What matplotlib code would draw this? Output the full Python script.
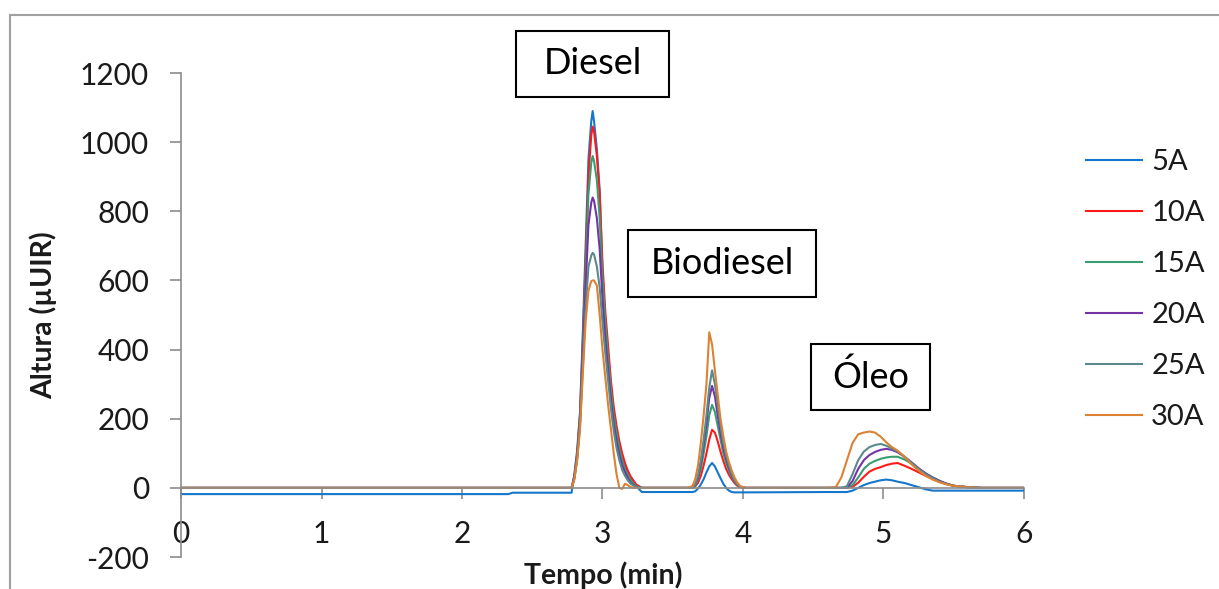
import matplotlib
matplotlib.use("Agg")
import matplotlib.pyplot as plt
from matplotlib.patches import Rectangle

plt.rcParams['font.family'] = ['Lato', 'DejaVu Sans']
plt.rcParams['axes.unicode_minus'] = False

# tempo de retenção (min): linha de base, pico do diesel, biodiesel, óleo
t_base = [0.0, 2.33, 2.36]
t_diesel = [2.78, 2.80, 2.82, 2.84, 2.86, 2.88, 2.90, 2.92, 2.93, 2.94, 2.96, 2.98, 3.00,
            3.02, 3.04, 3.06, 3.08, 3.10, 3.12, 3.14, 3.16, 3.18, 3.20, 3.24, 3.28]
t_bio = [3.60, 3.64, 3.66, 3.68, 3.70, 3.72, 3.74, 3.76, 3.78, 3.80, 3.82, 3.84, 3.86,
         3.88, 3.90, 3.92, 3.94, 3.96, 3.98, 4.02]
t_oleo = [4.60, 4.66, 4.70, 4.74, 4.78, 4.82, 4.86, 4.90, 4.94, 4.98, 5.02, 5.06, 5.10,
          5.15, 5.20, 5.25, 5.30, 5.35, 5.40, 5.45, 5.50, 5.60, 5.70]
t_fim = [6.0]
tempo = t_base + t_diesel + t_bio + t_oleo + t_fim

amostras = ['5A', '10A', '15A', '20A', '25A', '30A']
cores = ['#1577cc', '#ff1a1a', '#3a9d72', '#7434a6', '#5a8a8c', '#dc8232']

# altura (µUIR) de cada amostra
h_5A = ([-18, -18, -14] +
        [-14, 40, 110, 220, 450, 700, 950, 1060, 1090, 1060, 980, 860, 620,
         470, 380, 290, 215, 160, 120, 90, 65, 45, 30, 5, -12] +
        [-12, -12, -10, -2, 10, 25, 45, 62, 72, 62, 45, 28, 12, 0, -8, -12, -13, -13, -13, -13] +
        [-12, -12, -12, -12, -8, 0, 8, 14, 18, 22, 24, 22, 18, 14, 8, 2, -4, -8, -8, -8, -8, -8, -8] +
        [-8])
h_10A = ([0, 0, 0] +
         [0, 35, 100, 210, 420, 660, 900, 1020, 1045, 1030, 960, 850, 650,
          510, 410, 310, 235, 180, 135, 100, 72, 50, 33, 10, 0] +
         [0, 0, 4, 15, 35, 65, 100, 140, 168, 160, 135, 105, 78, 55, 38, 25, 14, 6, 2, 0] +
         [0, 0, 0, 0, 3, 15, 32, 47, 55, 60, 66, 70, 72, 64, 55, 45, 35, 26, 18, 11, 6, 2, 0] +
         [0])
h_15A = ([0, 0, 0] +
         [0, 30, 95, 200, 400, 620, 850, 940, 960, 945, 890, 780, 610,
          480, 375, 285, 210, 160, 115, 80, 55, 38, 22, 5, 0] +
         [0, 0, 6, 25, 55, 100, 150, 210, 240, 220, 180, 140, 100, 72, 50, 32, 18, 8, 2, 0] +
         [0, 0, 0, 0, 8, 30, 55, 70, 78, 84, 88, 90, 90, 82, 70, 55, 42, 30, 20, 12, 6, 2, 0] +
         [0])
h_20A = ([0, 0, 0] +
         [0, 30, 90, 190, 380, 580, 760, 825, 840, 830, 780, 690, 545,
          430, 340, 255, 185, 135, 95, 65, 45, 28, 15, 3, 0] +
         [0, 0, 8, 30, 70, 125, 185, 260, 295, 265, 210, 160, 115, 85, 58, 36, 20, 9, 3, 0] +
         [0, 0, 0, 0, 20, 55, 80, 95, 104, 110, 113, 110, 103, 90, 74, 57, 42, 30, 20, 12, 6, 2, 0] +
         [0])
h_25A = ([0, 0, 0] +
         [0, 28, 85, 180, 350, 520, 640, 672, 680, 675, 640, 580, 480,
          390, 310, 230, 165, 115, 80, 52, 35, 22, 12, 2, 0] +
         [0, 0, 10, 35, 80, 140, 210, 290, 340, 300, 240, 180, 130, 95, 65, 40, 22, 10, 3, 0] +
         [0, 0, 0, 5, 40, 80, 105, 118, 124, 127, 122, 114, 105, 90, 72, 55, 40, 28, 18, 11, 6, 2, 0] +
         [0])
h_30A = ([0, 0, 0] +
         [0, 25, 80, 170, 330, 480, 570, 598, 600, 600, 585, 500, 400,
          320, 240, 170, 100, 40, 0, -3, 12, 8, 2, 0, 0] +
         [0, 5, 25, 65, 130, 210, 300, 450, 415, 340, 270, 200, 150, 105, 75, 50, 30, 15, 5, 0] +
         [0, 2, 30, 80, 130, 155, 160, 163, 160, 148, 132, 118, 108, 90, 68, 50, 35, 24, 16, 10, 6, 2, 0] +
         [0])
alturas = [h_5A, h_10A, h_15A, h_20A, h_25A, h_30A]

fig = plt.figure(figsize=(12.19, 5.89), dpi=100)
ax = fig.add_axes([0.1485, 0.0543, 0.6915, 0.8217])

for nome, cor, h in zip(amostras, cores, alturas):
    ax.plot(tempo, h, color=cor, lw=1.5, label=nome)

cinza = '#8c8c8c'
ax.set_xlim(0, 6)
ax.set_ylim(-200, 1200)
ax.set_xticks(range(0, 7))
ax.set_yticks(range(-200, 1201, 200))
for lado in ['top', 'right']:
    ax.spines[lado].set_visible(False)
ax.spines['bottom'].set_position(('data', 0))
ax.spines['bottom'].set_color(cinza)
ax.spines['left'].set_color(cinza)
ax.spines['bottom'].set_linewidth(1.2)
ax.spines['left'].set_linewidth(1.2)
ax.tick_params(axis='both', direction='out', length=8, width=1.2, color=cinza,
               labelsize=21.5, labelcolor='#1a1a1a')
ax.tick_params(axis='y', pad=15)
ax.tick_params(axis='x', pad=15)

ax.set_ylabel('Altura (µUIR)', fontsize=20.5, fontweight='bold', color='#1a1a1a')
ax.yaxis.set_label_coords(-0.147, 0.5)
fig.text(0.4945, 0.024, 'Tempo (min)', fontsize=20.5, fontweight='bold',
         color='#1a1a1a', ha='center', va='center')

ax.legend(loc='center left', bbox_to_anchor=(0.869, 0.508), bbox_transform=fig.transFigure,
          frameon=False, fontsize=21, handlelength=1.95, handletextpad=0.3,
          labelspacing=0.86, labelcolor='#1a1a1a')

# caixas de identificação dos picos (pixels da figura)
caixas = [('Diesel', 516, 31, 669, 97),
          ('Biodiesel', 628, 230, 816, 297),
          ('Óleo', 811, 344, 930, 410)]
W, H = 1219, 589
for txt, x0, y0, x1, y1 in caixas:
    fig.add_artist(Rectangle((x0 / W, 1 - y1 / H), (x1 - x0) / W, (y1 - y0) / H,
                             transform=fig.transFigure, fill=True, facecolor='white',
                             edgecolor='black', lw=1.5))
    fig.text((x0 + x1) / 2 / W, 1 - (y0 + y1) / 2 / H, txt, fontsize=26,
             ha='center', va='center', color='black')

# moldura da área do gráfico
fig.add_artist(Rectangle((10 / W, -0.1), 1.2, 0.1 + 1 - 15 / H, transform=fig.transFigure,
                         fill=False, edgecolor='#a0a0a0', lw=1.5))

fig.savefig('out.png', dpi=100)
